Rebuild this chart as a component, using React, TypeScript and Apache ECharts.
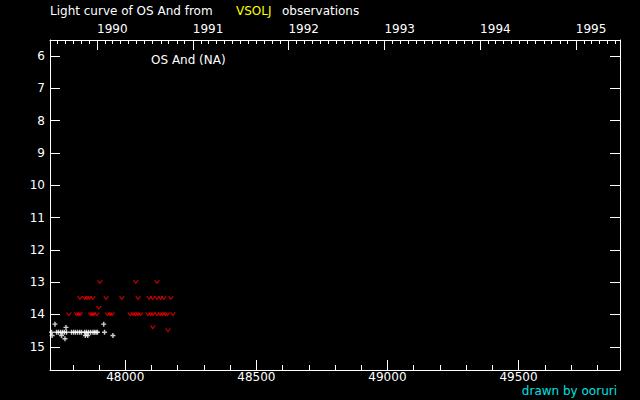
import React, { useEffect, useRef } from "react";
import * as echarts from "echarts";

// Axis ranges (JD - 2400000 and magnitude)
const X_MIN = 47713;
const X_MAX = 49887;
const Y_MIN = 5.5;
const Y_MAX = 15.72;

// Tick values
const bottomMajorTicks = [48000, 48500, 49000, 49500];
const bottomMinorTicks = [
  47800, 47900, 48100, 48200, 48300, 48400, 48600, 48700, 48800, 48900,
  49100, 49200, 49300, 49400, 49600, 49700, 49800,
];
const yearLabels = ["1990", "1991", "1992", "1993", "1994", "1995"];
const magTicks = [6, 7, 8, 9, 10, 11, 12, 13, 14, 15];

// Visual observations [JD-2400000, mag]
const observed: [number, number][] = [
  [47719, 14.55], [47738, 14.55], [47745, 14.55], [47753, 14.55], [47761, 14.55],
  [47768, 14.55], [47776, 14.55], [47795, 14.55], [47803, 14.55], [47810, 14.55],
  [47818, 14.55], [47826, 14.55], [47833, 14.55], [47845, 14.55], [47852, 14.55],
  [47860, 14.55], [47868, 14.55], [47877, 14.55], [47883, 14.55], [47889, 14.55],
  [47894, 14.55],
  [47732, 14.3], [47774, 14.4], [47721, 14.65], [47757, 14.65], [47770, 14.75],
  [47848, 14.65], [47857, 14.65], [47918, 14.3], [47921, 14.55], [47953, 14.65],
];

// Fainter-than (upper limit) observations [JD-2400000, mag]
const fainterThan: [number, number][] = [
  [47903, 13.0], [48040, 13.0], [48121, 13.0],
  [47827, 13.5], [47845, 13.5], [47854, 13.5], [47864, 13.5], [47876, 13.5],
  [47927, 13.5], [47987, 13.5], [48049, 13.5], [48091, 13.5], [48104, 13.5],
  [48121, 13.5], [48135, 13.5], [48147, 13.5], [48174, 13.5],
  [47899, 13.8],
  [47785, 14.0], [47814, 14.0], [47822, 14.0], [47828, 14.0], [47868, 14.0],
  [47874, 14.0], [47880, 14.0], [47892, 14.0], [47932, 14.0], [47942, 14.0],
  [47950, 14.0], [48019, 14.0], [48030, 14.0], [48039, 14.0], [48049, 14.0],
  [48058, 14.0], [48087, 14.0], [48097, 14.0], [48106, 14.0], [48121, 14.0],
  [48133, 14.0], [48142, 14.0], [48152, 14.0], [48161, 14.0], [48182, 14.0],
  [48105, 14.4], [48163, 14.5],
];

// calendar -> JD-2400000
const jdOf = (y: number, m: number) => Date.UTC(y, m, 1) / 86400000 + 40587.5;
const yearTicks = yearLabels.map((y) => jdOf(Number(y), 0));
const monthTicks: number[] = [];
for (let y = 1989; y <= 1995; y++) {
  for (let m = 0; m < 12; m++) {
    const v = jdOf(y, m);
    if (v > X_MIN && v < X_MAX && m !== 0) monthTicks.push(v);
  }
}

const FONT = "DejaVu Sans";
const WHITE = "#ffffff";

export default function App() {
  const ref = useRef<HTMLDivElement>(null);
  useEffect(() => {
    document.body.style.margin = "0";
    document.body.style.background = "#000";
    const chart = echarts.init(ref.current!, undefined, { renderer: "svg" });
    const line = { show: true, lineStyle: { color: WHITE, width: 1 } };
    const baseX = { type: "value", min: X_MIN, max: X_MAX, splitLine: { show: false } };
    chart.setOption({
      animation: false,
      backgroundColor: "#000000",
      grid: { left: 50, right: 20, top: 40, bottom: 30 },
      xAxis: [
        {
          ...baseX,
          position: "bottom",
          axisLine: line,
          axisTick: { show: true, inside: true, length: 10, customValues: bottomMajorTicks, lineStyle: { color: WHITE } },
          axisLabel: {
            show: true,
            customValues: bottomMajorTicks,
            color: WHITE,
            fontFamily: FONT,
            fontSize: 12,
            margin: 1,
            formatter: (v: number) => String(Math.round(v)),
          },
        },
        {
          ...baseX,
          position: "bottom",
          axisLine: { show: false },
          axisTick: { show: true, inside: true, length: 5, customValues: bottomMinorTicks, lineStyle: { color: WHITE } },
          axisLabel: { show: false },
        },
        {
          ...baseX,
          position: "top",
          axisLine: line,
          axisTick: { show: true, inside: true, length: 10, customValues: yearTicks, lineStyle: { color: WHITE } },
          axisLabel: {
            show: true,
            customValues: yearTicks,
            align: "left",
            color: WHITE,
            fontFamily: FONT,
            fontSize: 12,
            margin: 5,
            formatter: (v: number) => {
              let best = 0;
              yearTicks.forEach((t, i) => {
                if (Math.abs(t - v) < Math.abs(yearTicks[best] - v)) best = i;
              });
              return yearLabels[best];
            },
          },
        },
        {
          ...baseX,
          position: "top",
          axisLine: { show: false },
          axisTick: { show: true, inside: true, length: 4, customValues: monthTicks, lineStyle: { color: WHITE } },
          axisLabel: { show: false },
        },
      ],
      yAxis: [
        {
          type: "value",
          inverse: true,
          min: Y_MIN,
          max: Y_MAX,
          position: "left",
          splitLine: { show: false },
          axisLine: line,
          axisTick: { show: true, inside: true, length: 10, customValues: magTicks, lineStyle: { color: WHITE } },
          axisLabel: { show: true, customValues: magTicks, color: WHITE, fontFamily: FONT, fontSize: 12, margin: 5 },
        },
        {
          type: "value",
          inverse: true,
          min: Y_MIN,
          max: Y_MAX,
          position: "right",
          splitLine: { show: false },
          axisLine: line,
          axisTick: { show: true, inside: true, length: 10, customValues: magTicks, lineStyle: { color: WHITE } },
          axisLabel: { show: false },
        },
      ],
      series: [
        {
          type: "scatter",
          xAxisIndex: 0,
          yAxisIndex: 0,
          data: fainterThan,
          symbol: "path://M0,0 L1.6,0 L3,2.3 L4.4,0 L6,0 L3,4 Z",
          symbolSize: [6, 4],
          itemStyle: { color: "#ff0000" },
          clip: false,
        },
        {
          type: "scatter",
          xAxisIndex: 0,
          yAxisIndex: 0,
          data: observed,
          symbol: "path://M1.8,0 L3.2,0 L3.2,1.8 L5,1.8 L5,3.2 L3.2,3.2 L3.2,5 L1.8,5 L1.8,3.2 L0,3.2 L0,1.8 L1.8,1.8 Z",
          symbolSize: 5,
          itemStyle: { color: WHITE },
          clip: false,
        },
      ],
      graphic: [
        { type: "text", left: 50, top: 5, style: { text: "Light curve of OS And from", fill: WHITE, font: `12px '${FONT}'` } },
        { type: "text", left: 236, top: 5, style: { text: "VSOLJ", fill: "#ffff00", font: `12px '${FONT}'` } },
        { type: "text", left: 282, top: 5, style: { text: "observations", fill: WHITE, font: `12px '${FONT}'` } },
        { type: "text", left: 151, top: 54, style: { text: "OS And (NA)", fill: WHITE, font: `12px '${FONT}'` } },
        { type: "text", right: 23, top: 385, style: { text: "drawn by ooruri", fill: "#00e0e0", font: `12px '${FONT}'` } },
      ],
    });
    return () => chart.dispose();
  }, []);
  return <div ref={ref} style={{ width: 640, height: 400, background: "#000" }} />;
}
